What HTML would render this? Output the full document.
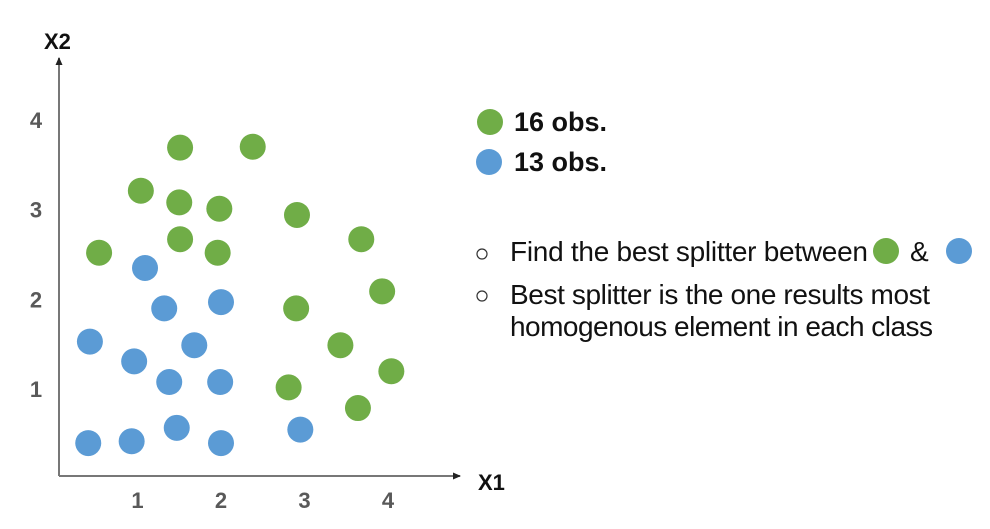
<!DOCTYPE html>
<html><head><meta charset="utf-8">
<style>
body{margin:0;background:#fff;width:990px;height:529px;overflow:hidden;font-family:"Liberation Sans",sans-serif;}
svg{position:absolute;left:0;top:0}
</style></head>
<body>
<svg id="chart" width="990" height="529">
<defs><marker id="arr" markerWidth="8" markerHeight="7" refX="7" refY="3.5" orient="auto" markerUnits="userSpaceOnUse"><path d="M0,0 L8,3.5 L0,7 Z" fill="#222"/></marker></defs>
<line x1="59" y1="476" x2="59" y2="58" stroke="#777" stroke-width="2" marker-end="url(#arr)"/>
<line x1="59" y1="476" x2="460" y2="476" stroke="#777" stroke-width="2" marker-end="url(#arr)"/>
<text x="44" y="49" font-size="22" font-weight="bold" fill="#111">X2</text>
<text x="478" y="490" font-size="22" font-weight="bold" fill="#111">X1</text>
<g id="ticks"></g>
<g id="points"></g>
<g>
<circle cx="490" cy="122" r="13" fill="#70AD47"/>
<text x="514" y="131" font-size="27" font-weight="bold" fill="#111" textLength="93">16 obs.</text>
<circle cx="489" cy="162" r="13" fill="#5B9BD5"/>
<text x="514" y="171" font-size="27" font-weight="bold" fill="#111" textLength="93">13 obs.</text>
</g>
<g>
<circle cx="482" cy="254" r="5" fill="none" stroke="#333" stroke-width="1.2"/>
<text x="510" y="261" font-size="28" fill="#111" textLength="358">Find the best splitter between</text>
<circle cx="886" cy="251" r="13" fill="#70AD47"/>
<text x="910" y="261" font-size="28" fill="#111">&amp;</text>
<circle cx="959" cy="251" r="13" fill="#5B9BD5"/>
<circle cx="482" cy="296" r="5" fill="none" stroke="#333" stroke-width="1.2"/>
<text x="510" y="304" font-size="28" fill="#111" textLength="420">Best splitter is the one results most</text>
<text x="510" y="336" font-size="28" fill="#111" textLength="423">homogenous element in each class</text>
</g>
</svg>
<script>
const xTicks=[1,2,3,4];
const yTicks=[1,2,3,4];
const greenX=[1.51,2.38,1.04,1.50,1.98,2.91,1.51,1.96,0.54,3.68,3.93,2.90,3.43,4.04,2.81,3.64];
const greenY=[3.69,3.70,3.21,3.08,3.01,2.94,2.67,2.52,2.52,2.67,2.09,1.90,1.49,1.20,1.02,0.79];
const blueX=[1.09,1.32,2.00,0.43,0.96,1.68,1.38,1.99,0.41,0.93,1.47,2.00,2.95];
const blueY=[2.35,1.90,1.97,1.53,1.31,1.49,1.08,1.08,0.40,0.42,0.57,0.40,0.55];
function sx(v){return 54+83.5*v;}
function sy(v){return 479-89.8*v;}
const NS="http://www.w3.org/2000/svg";
const tg=document.getElementById('ticks');
xTicks.forEach(function(t){
  const el=document.createElementNS(NS,'text');
  el.setAttribute('x',sx(t));el.setAttribute('y',508);
  el.setAttribute('text-anchor','middle');el.setAttribute('font-size','22');el.setAttribute('font-weight','bold');el.setAttribute('fill','#595959');
  el.textContent=t;
  
  
  tg.appendChild(el);
});
yTicks.forEach(function(t){
  const el=document.createElementNS(NS,'text');
  el.setAttribute('x',36);el.setAttribute('y',sy(t)+8);
  el.setAttribute('text-anchor','middle');el.setAttribute('font-size','22');el.setAttribute('font-weight','bold');el.setAttribute('fill','#595959');
  el.textContent=t;
  
  
  tg.appendChild(el);
});
const pg=document.getElementById('points');
function drawPts(xs,ys,color,name){
  xs.forEach(function(x,i){
    const c=document.createElementNS(NS,'circle');
    c.setAttribute('cx',sx(x));c.setAttribute('cy',sy(ys[i]));c.setAttribute('r',13);c.setAttribute('fill',color);
    
    
    pg.appendChild(c);
  });
}
drawPts(greenX,greenY,'#70AD47','green-point');
drawPts(blueX,blueY,'#5B9BD5','blue-point');
</script>
</body></html>
